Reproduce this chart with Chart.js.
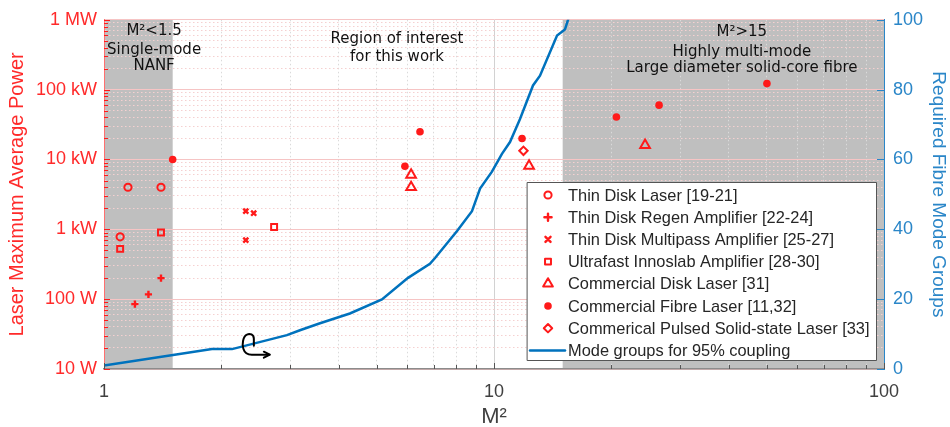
<!DOCTYPE html>
<html><head><meta charset="utf-8">
<script src="https://cdn.jsdelivr.net/npm/chart.js@4.4.1/dist/chart.umd.min.js"></script>
<style>html,body{margin:0;padding:0;background:#fff;}canvas{display:block;}</style>
</head><body>
<canvas id="c" width="950" height="427"></canvas>
<script>
// ---- data ----
const thinDiskX = [1.10, 1.152, 1.40];
const thinDiskY = [780, 4000, 4000];
const regenX = [1.20, 1.30, 1.40];
const regenY = [85, 117, 200];
const multipassX = [2.31, 2.42, 2.31];
const multipassY = [1820, 1700, 700];
const innoslabX = [1.10, 1.40, 2.73];
const innoslabY = [525, 900, 1080];
const diskX = [6.13, 6.13, 12.3, 24.4];
const diskY = [6000, 4000, 8100, 16000];
const fibreX = [1.50, 5.91, 6.46, 11.8, 20.6, 26.5, 50.1];
const fibreY = [10000, 8000, 25000, 20000, 40500, 60000, 122000];
const pulsedX = [11.9];
const pulsedY = [13300];
const modeX = [1, 1.503, 1.892, 2.13, 2.945, 3.18, 3.58, 4.27, 5.16, 6.02, 6.85, 7.06, 8.04, 8.78, 9.21, 9.88, 10.48, 10.99, 11.66, 12.59, 13.12, 14.51, 15.2, 15.9];
const modeY = [1, 4.0, 5.7, 5.7, 9.7, 11.1, 13.1, 15.9, 19.9, 26.1, 30.1, 31.8, 39.5, 45.2, 51.7, 56.5, 61.6, 65, 71.6, 81.2, 84, 95.5, 97.2, 104];

const legendLabels = ['Thin Disk Laser [19-21]', 'Thin Disk Regen Amplifier [22-24]', 'Thin Disk Multipass Amplifier [25-27]', 'Ultrafast Innoslab Amplifier [28-30]', 'Commercial Disk Laser [31]', 'Commercial Fibre Laser [11,32]', 'Commerical Pulsed Solid-state Laser [33]', 'Mode groups for 95% coupling'];

const xMajorTicks = [1, 10, 100];
const xTickLabels = ['1', '10', '100'];
const yMajorTicks = [10, 100, 1000, 10000, 100000, 1000000];
const yTickLabels = ['10 W', '100 W', '1 kW', '10 kW', '100 kW', '1 MW'];
const y2Ticks = [0, 20, 40, 60, 80, 100];
const singleModeRange = [1, 1.5];
const multiModeRange = [15, 100];

// minor tick positions for log axes
function logTicks(min, max) {
  const out = [];
  for (let d = min; d < max; d *= 10) for (let k = 1; k <= 9; k++) out.push(k * d);
  out.push(max);
  return out;
}
const xAllTicks = logTicks(1, 100);
const yAllTicks = logTicks(10, 1000000);

const RED = '#ff1a1a';
const BLUE = '#0072bd';
const BLUE_TXT = '#2a86c8';
const pts = (xs, ys) => xs.map((x, i) => ({x: x, y: ys[i]}));

const markerStyles = [
  {pointStyle: 'circle', radius: 3.6, borderWidth: 2, fill: false},
  {pointStyle: 'cross', radius: 3.6, borderWidth: 2.4, fill: false},
  {pointStyle: 'crossRot', radius: 3.6, borderWidth: 2.4, fill: false},
  {pointStyle: 'rect', radius: 4.2, borderWidth: 2, fill: false},
  {pointStyle: 'triangle', radius: 5.6, borderWidth: 2, fill: false},
  {pointStyle: 'circle', radius: 3.8, borderWidth: 0, fill: true},
  {pointStyle: 'rectRot', radius: 4.2, borderWidth: 2, fill: false}
];
const seriesX = [thinDiskX, regenX, multipassX, innoslabX, diskX, fibreX, pulsedX];
const seriesY = [thinDiskY, regenY, multipassY, innoslabY, diskY, fibreY, pulsedY];

const datasets = seriesX.map((xs, i) => ({
  type: 'scatter',
  label: legendLabels[i],
  data: pts(xs, seriesY[i]),
  yAxisID: 'y',
  pointStyle: markerStyles[i].pointStyle,
  pointRadius: markerStyles[i].radius,
  pointBorderWidth: markerStyles[i].borderWidth,
  borderColor: RED,
  backgroundColor: markerStyles[i].fill ? RED : 'rgba(0,0,0,0)',
  order: 1
}));
datasets.push({
  type: 'line',
  label: legendLabels[7],
  data: pts(modeX, modeY),
  yAxisID: 'y1',
  borderColor: BLUE,
  borderWidth: 2.5,
  pointRadius: 0,
  fill: false,
  tension: 0,
  order: 2
});

const isMajor = (v) => Math.abs(Math.log10(v) - Math.round(Math.log10(v))) < 1e-9;

const decor = {
  id: 'decor',
  beforeDraw(chart) {
    const {ctx, chartArea: a, scales: {x}} = chart;
    ctx.save();
    ctx.fillStyle = '#bfbfbf';
    [singleModeRange, multiModeRange].forEach(r => {
      const x0 = x.getPixelForValue(r[0]), x1 = x.getPixelForValue(r[1]);
      ctx.fillRect(x0, a.top, x1 - x0, a.bottom - a.top);
    });
    ctx.restore();
  },
  afterDraw(chart) {
    const {ctx, chartArea: a, scales: {x, y, y1}} = chart;
    ctx.save();
    // inward tick marks
    ctx.lineWidth = 1;
    ctx.strokeStyle = '#555';
    xAllTicks.forEach(v => {
      const px = Math.round(x.getPixelForValue(v)) + 0.5;
      ctx.beginPath(); ctx.moveTo(px, a.bottom); ctx.lineTo(px, a.bottom - (isMajor(v) ? 6 : 4)); ctx.stroke();
    });
    ctx.strokeStyle = RED;
    yAllTicks.forEach(v => {
      const py = Math.round(y.getPixelForValue(v)) + 0.5;
      ctx.beginPath(); ctx.moveTo(a.left, py); ctx.lineTo(a.left + (isMajor(v) ? 6 : 4), py); ctx.stroke();
    });
    ctx.strokeStyle = BLUE_TXT;
    y2Ticks.forEach(v => {
      const py = Math.round(y1.getPixelForValue(v)) + 0.5;
      ctx.beginPath(); ctx.moveTo(a.right, py); ctx.lineTo(a.right - 7, py); ctx.stroke();
    });

    // annotations
    ctx.fillStyle = '#111';
    ctx.textAlign = 'center';
    ctx.textBaseline = 'middle';
    ctx.font = '15px "DejaVu Sans"';
    const lx = x.getPixelForValue(1.344);
    ctx.fillText('M\u00b2<1.5', lx, a.top + 11);
    ctx.fillText('Single-mode', lx, a.top + 30);
    ctx.fillText('NANF', lx, a.top + 46);
    const mx = x.getPixelForValue(5.64);
    ctx.fillText('Region of interest', mx, a.top + 19);
    ctx.fillText('for this work', mx, a.top + 37);
    const rx = x.getPixelForValue(43.2);
    ctx.fillText('M\u00b2>15', rx, a.top + 12);
    ctx.fillText('Highly multi-mode', rx, a.top + 32);
    ctx.fillText('Large diameter solid-core fibre', rx, a.top + 48);

    // curly arrow glyph
    const gx = x.getPixelForValue(2.27), gy = y.getPixelForValue(32);
    ctx.strokeStyle = '#000'; ctx.lineWidth = 2; ctx.lineCap = 'round'; ctx.lineJoin = 'round';
    ctx.beginPath();
    ctx.moveTo(gx + 11, gy + 12);
    ctx.lineTo(gx + 11, gy + 5);
    ctx.bezierCurveTo(gx + 11, gy + 1, gx + 7, gy - 1, gx + 4, gy + 1);
    ctx.bezierCurveTo(gx + 0, gy + 3, gx - 1, gy + 11, gx + 0.5, gy + 15);
    ctx.bezierCurveTo(gx + 2, gy + 20, gx + 5, gy + 21, gx + 9, gy + 21);
    ctx.lineTo(gx + 26, gy + 21);
    ctx.stroke();
    ctx.beginPath();
    ctx.moveTo(gx + 21, gy + 18); ctx.lineTo(gx + 27, gy + 21); ctx.lineTo(gx + 21, gy + 24);
    ctx.stroke();

    // legend box
    const L = a.right - 357, T = a.bottom - 187, W = 349, H = 178;
    ctx.fillStyle = '#fff';
    ctx.fillRect(L, T, W, H);
    ctx.strokeStyle = '#555'; ctx.lineWidth = 1;
    ctx.strokeRect(L + 0.5, T + 0.5, W, H);
    ctx.font = '16.4px "Liberation Sans"';
    ctx.textAlign = 'left';
    ctx.textBaseline = 'middle';
    legendLabels.forEach((lab, i) => {
      const cy = T + 13 + i * 22.2;
      const mxp = L + 21;
      if (i < 7) {
        const ms = markerStyles[i];
        ctx.fillStyle = RED; ctx.strokeStyle = RED; ctx.lineWidth = ms.borderWidth || 1;
        ctx.save();
        if (!ms.fill) ctx.fillStyle = 'rgba(0,0,0,0)';
        Chart.helpers.drawPoint(ctx, {pointStyle: ms.pointStyle, radius: ms.radius, rotation: 0, borderWidth: ms.borderWidth}, mxp, cy);
        ctx.restore();
      } else {
        ctx.strokeStyle = BLUE; ctx.lineWidth = 2.5;
        ctx.beginPath(); ctx.moveTo(L + 3, cy); ctx.lineTo(L + 38, cy); ctx.stroke();
      }
      ctx.fillStyle = '#262626';
      ctx.fillText(lab, L + 41, cy + 1);
    });
    ctx.restore();
  }
};

new Chart(document.getElementById('c'), {
  data: {datasets: datasets},
  options: {
    responsive: false,
    devicePixelRatio: 1,
    animation: false,
    layout: {padding: {top: 17, left: 0, right: 0, bottom: 0}},
    plugins: {legend: {display: false}, tooltip: {enabled: false}},
    scales: {
      x: {
        type: 'logarithmic', min: 1, max: 100, position: 'bottom',
        afterBuildTicks: s => { s.ticks = xAllTicks.map(v => ({value: v, major: isMajor(v)})); },
        afterFit: s => { s.height = 58; },
        ticks: {
          autoSkip: false, maxRotation: 0, minRotation: 0, padding: 12,
          color: '#404040', font: {family: 'Liberation Sans', size: 18},
          callback: v => { const i = xMajorTicks.indexOf(v); return i >= 0 ? xTickLabels[i] : ''; }
        },
        grid: {drawTicks: false, lineWidth: 1,
          color: c => (c.tick && isMajor(c.tick.value)) ? '#d2d2d2' : '#dadada'},
        border: {display: true, color: '#8c8c8c', width: 1.5,
          dash: c => (c.tick && !isMajor(c.tick.value)) ? [1.5, 2.5] : []},
        title: {display: true, text: 'M\u00b2', color: '#404040',
          font: {family: 'Liberation Sans', size: 22, lineHeight: 1}, padding: {top: 0, bottom: -1}}
      },
      y: {
        type: 'logarithmic', min: 10, max: 1000000, position: 'left',
        afterBuildTicks: s => { s.ticks = yAllTicks.map(v => ({value: v, major: isMajor(v)})); },
        afterFit: s => { s.width = 104; },
        ticks: {
          autoSkip: false, padding: 7,
          color: '#ff2a2a', font: {family: 'Liberation Sans', size: 18},
          callback: v => { const i = yMajorTicks.indexOf(v); return i >= 0 ? yTickLabels[i] : ''; }
        },
        grid: {drawTicks: false, lineWidth: 1,
          color: c => (c.tick && isMajor(c.tick.value)) ? '#f6c4c4' : '#f5d0d0'},
        border: {display: true, color: '#ff7070', width: 1,
          dash: c => (c.tick && !isMajor(c.tick.value)) ? [1.5, 2.5] : []},
        title: {display: true, text: 'Laser Maximum Average Power', color: '#ff2a2a',
          font: {family: 'Liberation Sans', size: 20}, padding: {top: 5, bottom: 0}}
      },
      y1: {
        type: 'linear', min: 0, max: 100, position: 'right',
        afterBuildTicks: s => { s.ticks = y2Ticks.map(v => ({value: v})); },
        afterFit: s => { s.width = 66; },
        ticks: {padding: 9, color: BLUE_TXT, font: {family: 'Liberation Sans', size: 18}},
        grid: {display: false, drawTicks: false},
        border: {display: true, color: BLUE_TXT, width: 1},
        title: {display: true, text: 'Required Fibre Mode Groups', color: BLUE_TXT,
          font: {family: 'Liberation Sans', size: 19}, padding: {top: 0, bottom: 0}}
      }
    }
  },
  plugins: [decor]
});
</script>
</body></html>
